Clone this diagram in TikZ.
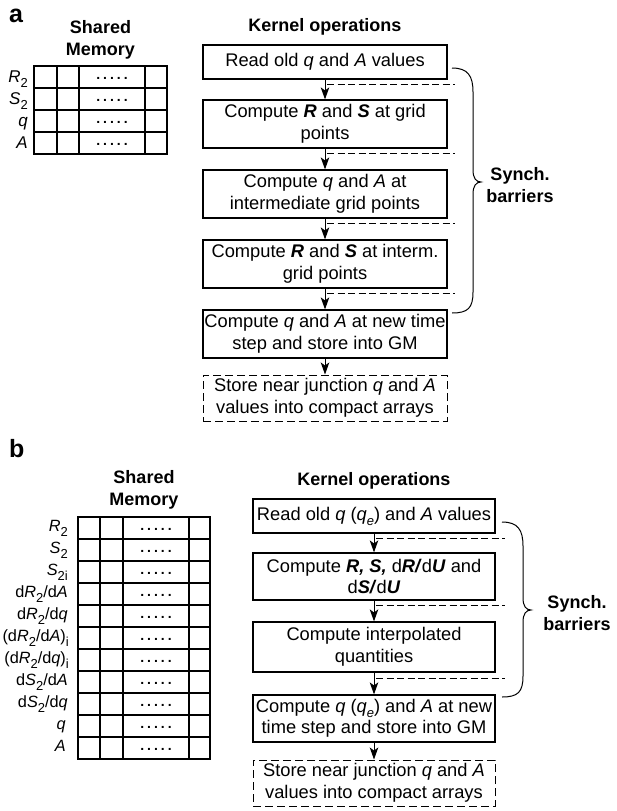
\documentclass[tikz,border=0pt]{standalone}
\usepackage{fontspec}
\setmainfont{Liberation Sans}
\usetikzlibrary{arrows.meta}

% lowered subscript in text
\newcommand{\lo}[1]{\raisebox{-5pt}{\fontsize{13}{13}\selectfont #1}}
\newcommand{\bi}[1]{\textbf{\textit{#1}}}
\newcommand{\dotrow}{\textbf{.\kern3pt.\kern3pt.\kern3pt.\kern3pt.}}

\begin{document}
\begin{tikzpicture}[x=1pt,y=-1pt,
  opbox/.style={draw, line width=1.2pt, rectangle, minimum width=244pt,
    inner sep=0pt, align=center, font=\fontsize{18.3}{21.5}\selectfont},
  storebox/.style={opbox, dash pattern=on 8pt off 4pt, line width=1pt},
  arr/.style={line width=1pt, -{Stealth[length=12pt,width=8.5pt,inset=3pt]}},
  barrier/.style={line width=1pt, dash pattern=on 7pt off 3.5pt},
  memgrid/.style={line width=2.7pt, line cap=rect},
  headtxt/.style={font=\bfseries\fontsize{18}{22}\selectfont, align=center},
  rowlab/.style={anchor=base east, font=\fontsize{17}{17}\selectfont, inner sep=0pt},
  rowlabb/.style={rowlab, font=\fontsize{16.3}{17}\selectfont},
  dotcell/.style={anchor=base, font=\fontsize{14}{14}\selectfont, inner sep=0pt},
  panellabel/.style={anchor=base west, font=\bfseries\fontsize{25}{25}\selectfont, inner sep=0pt},
  bracepath/.style={line width=1pt}]
\useasboundingbox (0,0) rectangle (616,811);

% ---------------- panel a ----------------
\node[panellabel] (la) at (9,23) {a};
\node[headtxt] (sma) at (100.5,40) {Shared\\Memory};
\node[headtxt, anchor=base] (koa) at (325,31.5) {Kernel operations};

% shared memory table
\foreach \y in {66,88,110,132,154} \draw[memgrid] (34,\y) -- (167,\y);
\foreach \x in {34,57,79,145,167} \draw[memgrid] (\x,66) -- (\x,154);
\foreach \y in {77,99,121,143} \node[dotcell] at (112,\y+2) {\dotrow};
\node[rowlab] (ra1) at (28,82)  {\textit{R}\lo{2}};
\node[rowlab] (ra2) at (28,104) {\textit{S}\lo{2}};
\node[rowlab] (ra3) at (28,126) {\textit{q}};
\node[rowlab] (ra4) at (28,148) {\textit{A}};

% kernel steps
\node[opbox, minimum height=34pt] (a1) at (325,62) {Read old \textit{q} and \textit{A} values};
\node[opbox, minimum height=48pt] (a2) at (325,124) {Compute \bi{R} and \bi{S} at grid\\points};
\node[opbox, minimum height=48pt] (a3) at (325,194) {Compute \textit{q} and \textit{A} at\\intermediate grid points};
\node[opbox, minimum height=48pt] (a4) at (325,264) {Compute \bi{R} and \bi{S} at interm.\\grid points};
\node[opbox, minimum height=48pt] (a5) at (325,334) {Compute \textit{q} and \textit{A} at new time\\step and store into GM};
\node[storebox, minimum height=46pt] (a6) at (325,398) {Store near junction \textit{q} and \textit{A}\\values into compact arrays};

\draw[arr] (a1) -- (a2);
\draw[arr] (a2) -- (a3);
\draw[arr] (a3) -- (a4);
\draw[arr] (a4) -- (a5);
\draw[arr] (a5) -- (a6);

\draw[barrier] (a1.south) ++(2,5) -- ++(128,0);
\draw[barrier] (a2.south) ++(2,5) -- ++(128,0);
\draw[barrier] (a3.south) ++(2,5) -- ++(128,0);
\draw[barrier] (a4.south) ++(2,5) -- ++(128,0);

\coordinate (bat) at (452,68);
\coordinate (bab) at (452,313);
\draw[bracepath] (bat) .. controls (468,68) and (473,76) .. (473,92) -- (473,170)
  .. controls (473,178) and (476,182) .. (481,182)
  .. controls (476,182) and (473,186) .. (473,194) -- (473,292)
  .. controls (473,308) and (468,313) .. (bab);
\node[headtxt] (sya) at (520,185) {Synch.\\barriers};

% ---------------- panel b ----------------
\node[panellabel] (lb) at (9,457) {b};
\node[headtxt] (smb) at (144,490) {Shared\\Memory};
\node[headtxt, anchor=base] (kob) at (374,485.5) {Kernel operations};

\foreach \k in {0,...,11} \draw[memgrid] (78,517+22*\k) -- (210,517+22*\k);
\foreach \x in {78,100,123,189,210} \draw[memgrid] (\x,517) -- (\x,759);
\foreach \k in {0,...,10} \node[dotcell] at (156,530+22*\k) {\dotrow};
\node[rowlabb] (rb1)  at (68,531) {\textit{R}\lo{2}};
\node[rowlabb] (rb2)  at (68,553) {\textit{S}\lo{2}};
\node[rowlabb] (rb3)  at (68,575) {\textit{S}\lo{2i}};
\node[rowlabb] (rb4)  at (68,597) {d\textit{R}\lo{2}/d\textit{A}};
\node[rowlabb] (rb5)  at (68,619) {d\textit{R}\lo{2}/d\textit{q}};
\node[rowlabb] (rb6)  at (69,641) {(d\textit{R}\lo{2}/d\textit{A})\lo{i}};
\node[rowlabb] (rb7)  at (69,663) {(d\textit{R}\lo{2}/d\textit{q})\lo{i}};
\node[rowlabb] (rb8)  at (68,685) {d\textit{S}\lo{2}/d\textit{A}};
\node[rowlabb] (rb9)  at (68,707) {d\textit{S}\lo{2}/d\textit{q}};
\node[rowlabb] (rb10) at (66,729) {\textit{q}};
\node[rowlabb] (rb11) at (66,751) {\textit{A}};

\node[opbox, minimum width=242pt, minimum height=34pt] (b1) at (374,516) {Read old \textit{q} (\textit{q}\lo{\textit{e}}) and \textit{A} values};
\node[opbox, minimum width=242pt, minimum height=47pt] (b2) at (374,576.5) {Compute \bi{R, S,} d\bi{R/}d\bi{U} and\\d\bi{S/}d\bi{U}};
\node[opbox, minimum width=242pt, minimum height=50pt] (b3) at (374,647) {Compute interpolated\\quantities};
\node[opbox, minimum width=242pt, minimum height=47pt] (b4) at (374,718.5) {Compute \textit{q} (\textit{q}\lo{\textit{e}}) and \textit{A} at new\\time step and store into GM};
\node[storebox, minimum width=242pt, minimum height=46pt] (b5) at (374,783) {Store near junction \textit{q} and \textit{A}\\values into compact arrays};

\draw[arr] (b1) -- (b2);
\draw[arr] (b2) -- (b3);
\draw[arr] (b3) -- (b4);
\draw[arr] (b4) -- (b5);

\draw[barrier] (b1.south) ++(2,5) -- ++(129,0);
\draw[barrier] (b2.south) ++(2,5) -- ++(129,0);
\draw[barrier] (b3.south) ++(2,6) -- ++(129,0);

\coordinate (bbt) at (502,522);
\coordinate (bbb) at (502,697);
\draw[bracepath] (bbt) .. controls (518,522) and (523,530) .. (523,546) -- (523,598)
  .. controls (523,606) and (526,610) .. (531,610)
  .. controls (526,610) and (523,614) .. (523,622) -- (523,676)
  .. controls (523,692) and (518,697) .. (bbb);
\node[headtxt] (syb) at (577,613) {Synch.\\barriers};
\end{tikzpicture}
\end{document}
